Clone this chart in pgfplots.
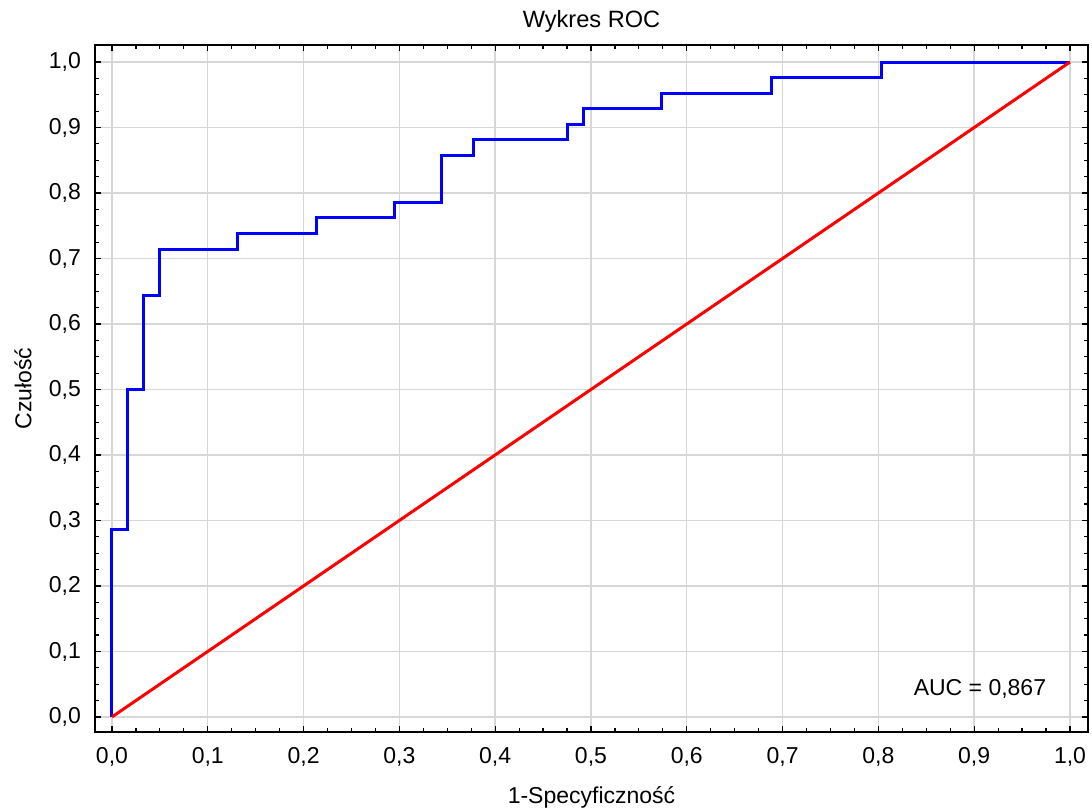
\documentclass[border=0pt]{standalone}
\usepackage{fontspec}
\setmainfont{Liberation Sans}
\usepackage{pgfplots}
\pgfplotsset{compat=1.18}
\definecolor{gridgray}{RGB}{215,215,215}
\begin{document}
\begin{tikzpicture}
\useasboundingbox (-47.5pt,-38.5pt) rectangle (498.5pt,366pt);
\begin{axis}[
  at={(0pt,0pt)}, anchor=south west,
  scale only axis, width=496.5pt, height=343.5pt,
  xmin=-0.0177, xmax=1.0188, ymin=-0.023, ymax=1.026,
  xtick={0,0.1,...,1.0}, ytick={0,0.1,...,1.0},
  minor tick num=3,
  tick align=inside,
  major tick length=3pt, minor tick length=1.8pt,
  xtick pos=both, ytick pos=both,
  grid=major,
  major grid style={gridgray, line width=0.7pt},
  axis line style={black, line width=0.7pt},
  tick style={black, line width=0.6pt},
  /pgf/number format/assume math mode=true,
  /pgf/number format/.cd, use comma, fixed, fixed zerofill, precision=1, /pgfplots/.cd,
  tick label style={font=\fontsize{11.5pt}{13pt}\selectfont},
  xticklabel style={yshift=-4pt},
  yticklabel style={xshift=-3.5pt},
  title={Wykres ROC},
  title style={font=\fontsize{11.8pt}{13pt}\selectfont, at={(0.5,1)}, anchor=base, yshift=2.5pt},
  xlabel={1-Specyficzność},
  ylabel={Czułość},
  label style={font=\fontsize{11.5pt}{13pt}\selectfont},
  xlabel style={at={(0.5,0)}, anchor=center, yshift=-32.5pt},
  ylabel style={at={(0,0.5)}, anchor=center, yshift=36pt},
  clip=false,
]
\addplot[const plot mark left, blue, line width=1.5pt] coordinates {
(0,0)
(0,0.2857)
(0.0164,0.5)
(0.0328,0.6429)
(0.0492,0.7143)
(0.1311,0.7381)
(0.2131,0.7619)
(0.2951,0.7857)
(0.3443,0.8571)
(0.3770,0.8810)
(0.4754,0.9048)
(0.4918,0.9286)
(0.5738,0.9524)
(0.6885,0.9762)
(0.8033,1.0)
(1,1)
};
\addplot[red, line width=1.5pt] coordinates {(0,0) (1,1)};
\node[font=\fontsize{11.5pt}{13pt}\selectfont] at (axis cs:0.906,0.043) {AUC = 0,867};
\end{axis}
\end{tikzpicture}
\end{document}
